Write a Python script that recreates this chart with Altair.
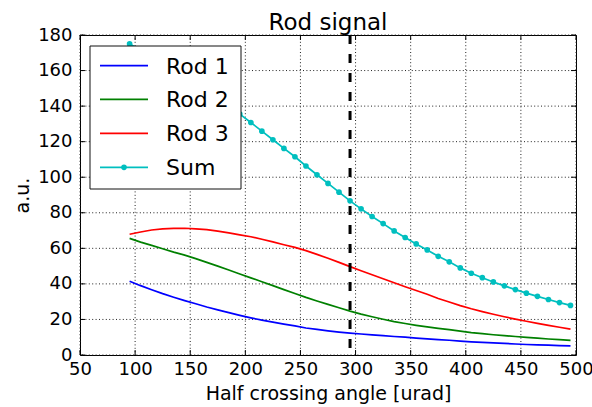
import altair as alt
import pandas as pd

# Half crossing angle samples [urad]
angle = list(range(95, 496, 10))

rod1 = [41.5, 39.0, 36.7, 34.5, 32.5, 30.6, 28.8, 27.0, 25.4, 23.8, 22.3,
        20.9, 19.6, 18.5, 17.4, 16.4, 15.2, 14.4, 13.6, 12.9, 12.3,
        11.8, 11.3, 10.9, 10.4, 10.0, 9.5, 9.1, 8.7, 8.3, 7.8,
        7.4, 7.1, 6.8, 6.5, 6.2, 5.9, 5.7, 5.5, 5.3, 5.1]
rod2 = [65.6, 63.5, 61.7, 59.8, 57.9, 56.2, 54.2, 52.1, 50.0, 47.8, 45.6,
        43.4, 41.2, 39.0, 36.8, 34.6, 32.4, 30.4, 28.5, 26.6, 24.7,
        23.0, 21.5, 20.1, 18.8, 17.7, 16.7, 15.8, 15.0, 14.3, 13.4,
        12.6, 12.0, 11.4, 10.9, 10.4, 9.9, 9.5, 9.0, 8.6, 8.2]
rod3 = [67.9, 69.2, 70.3, 70.9, 71.2, 71.3, 71.0, 70.5, 69.7, 68.7, 67.6,
        66.5, 65.1, 63.6, 62.0, 60.5, 58.7, 56.6, 54.4, 52.1, 49.7,
        47.4, 45.1, 42.9, 40.6, 38.4, 36.3, 34.2, 31.8, 29.8, 27.8,
        26.0, 24.4, 22.9, 21.5, 20.2, 19.0, 17.8, 16.7, 15.6, 14.6]
total = [175.0, 171.7, 168.7, 165.2, 161.6, 158.1, 154.0, 149.6, 145.1, 140.3, 135.5,
         130.8, 125.9, 121.1, 116.2, 111.5, 106.3, 101.4, 96.5, 91.6, 86.7,
         82.2, 77.9, 73.9, 69.8, 66.1, 62.5, 59.1, 55.5, 52.4, 49.0,
         46.0, 43.5, 41.1, 38.9, 36.8, 34.8, 33.0, 31.2, 29.5, 27.9]

series_names = ["Rod 1", "Rod 2", "Rod 3", "Sum"]
series_colors = ["#0000ff", "#008000", "#ff0000", "#00bfbf"]

nominal_angle = 295

x_ticks = list(range(50, 501, 50))
y_ticks = list(range(0, 181, 20))

FONT = "DejaVu Sans"

rods = pd.DataFrame({
    "angle": angle * 3,
    "signal": rod1 + rod2 + rod3,
    "series": ["Rod 1"] * len(angle) + ["Rod 2"] * len(angle) + ["Rod 3"] * len(angle),
})
sums = pd.DataFrame({"angle": angle, "signal": total, "series": "Sum"})

xs = alt.Scale(domain=[50, 500], nice=False, zero=False)
ys = alt.Scale(domain=[0, 180], nice=False)
color = alt.Color("series:N", scale=alt.Scale(domain=series_names, range=series_colors), legend=None)

# one shared axis definition per direction, used by every layer
x_axis = alt.Axis(values=x_ticks, title="Half crossing angle [urad]", labelPadding=5,
                  labelOverlap=False, labelFlush=False, grid=False, tickSize=0, domain=False,
                  titleX=248, titleY=38, titleBaseline="middle", titleAlign="center")
y_axis = alt.Axis(values=y_ticks, title="a.u.", labelPadding=8,
                  labelOverlap=False, labelFlush=False, grid=False, tickSize=0, domain=False,
                  titleAngle=270, titleX=-58, titleY=160, titleBaseline="middle", titleAlign="center")


def X(field):
    return alt.X(field, scale=xs, axis=x_axis)


def Y(field):
    return alt.Y(field, scale=ys, axis=y_axis)


xt = pd.DataFrame({"v": x_ticks})
yt = pd.DataFrame({"v": y_ticks})

# dotted grid at the tick positions
grid_x = alt.Chart(xt).mark_rule(color="#222", strokeWidth=1, strokeDash=[1, 2.4]).encode(x=X("v:Q"))
grid_y = alt.Chart(yt).mark_rule(color="#222", strokeWidth=1, strokeDash=[1, 2.4]).encode(y=Y("v:Q"))

rod_lines = alt.Chart(rods).mark_line(strokeWidth=1.7).encode(
    x=X("angle:Q"), y=Y("signal:Q"), color=color, detail="series:N",
)
sum_line = alt.Chart(sums).mark_line(strokeWidth=1.7, color="#00bfbf").encode(
    x=X("angle:Q"), y=Y("signal:Q")
)
sum_pts = alt.Chart(sums).mark_circle(size=32, color="#00bfbf", opacity=1).encode(
    x=X("angle:Q"), y=Y("signal:Q")
)

marker = alt.Chart(pd.DataFrame({"angle": [nominal_angle]})).mark_rule(
    strokeDash=[9, 10], strokeWidth=3, color="#000"
).encode(x=X("angle:Q"))

# inward ticks on all four sides, as in the classic style
xtick = pd.DataFrame({"v": x_ticks, "lo": 0, "lo2": 2.8, "hi": 180, "hi2": 177.2})
ytick = pd.DataFrame({"v": y_ticks, "lo": 50, "lo2": 54.5, "hi": 500, "hi2": 495.5})
tick_bottom = alt.Chart(xtick).mark_rule(color="#000").encode(x=X("v:Q"), y=Y("lo:Q"), y2="lo2:Q")
tick_top = alt.Chart(xtick).mark_rule(color="#000").encode(x=X("v:Q"), y=Y("hi:Q"), y2="hi2:Q")
tick_left = alt.Chart(ytick).mark_rule(color="#000").encode(y=Y("v:Q"), x=X("lo:Q"), x2="lo2:Q")
tick_right = alt.Chart(ytick).mark_rule(color="#000").encode(y=Y("v:Q"), x=X("hi:Q"), x2="hi2:Q")

# legend box in the upper left corner
one = pd.DataFrame({"k": [0]})
legend_layers = [
    alt.Chart(one).mark_rect(fill="white", stroke="#111", strokeWidth=1).encode(
        x=alt.value(10), x2=alt.value(161), y=alt.value(11), y2=alt.value(154)
    )
]
entry_y = [30.7, 64.3, 98.3, 132.3]
for name, col, yy in zip(series_names, series_colors, entry_y):
    legend_layers.append(
        alt.Chart(one).mark_rule(color=col, strokeWidth=1.7).encode(
            x=alt.value(20), x2=alt.value(68), y=alt.value(yy)
        )
    )
    legend_layers.append(
        alt.Chart(one).mark_text(text=name, align="left", baseline="middle", fontSize=22,
                                 font=FONT, color="#000").encode(
            x=alt.value(86), y=alt.value(yy + 1)
        )
    )
legend_layers.append(
    alt.Chart(one).mark_circle(size=32, color="#00bfbf", opacity=1).encode(
        x=alt.value(44), y=alt.value(entry_y[3])
    )
)

chart = alt.layer(
    grid_x, grid_y,
    rod_lines, sum_line, sum_pts, marker,
    tick_bottom, tick_top, tick_left, tick_right,
    *legend_layers
).properties(
    width=496,
    height=320,
    title=alt.TitleParams("Rod signal", fontSize=23, font=FONT, fontWeight="normal",
                          color="#000", offset=6, dy=15, anchor="middle"),
    autosize=alt.AutoSizeParams(type="none"),
    padding={"left": 80, "top": 35, "right": 16, "bottom": 52},
    background="white",
).configure_view(
    stroke="#000", strokeWidth=1
).configure_axis(
    labelFontSize=18, labelFont=FONT, labelColor="#000",
    titleFont=FONT, titleFontSize=19, titleFontWeight="normal", titleColor="#000",
)

chart.save("out.html", embed_options={"renderer": "svg", "actions": False})
